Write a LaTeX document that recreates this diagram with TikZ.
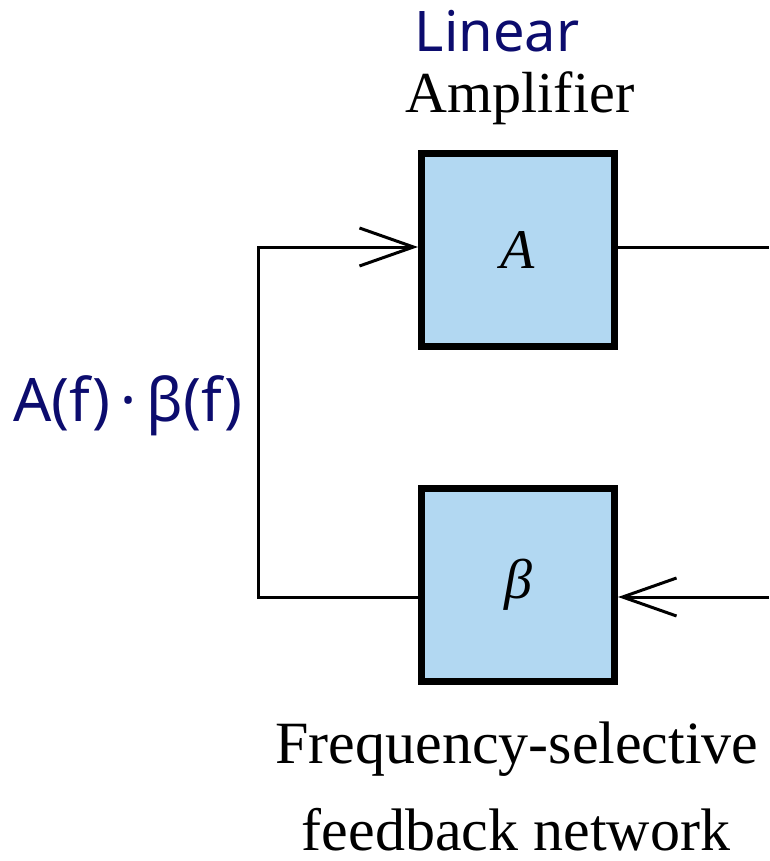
\documentclass[tikz,border=0pt]{standalone}
\usepackage{fontspec}
\setmainfont{Liberation Serif}
\newfontfamily\handfont{Noto Sans}
\usetikzlibrary{arrows.meta,positioning}
\definecolor{boxblue}{RGB}{178,216,242}
\definecolor{inknavy}{RGB}{12,12,110}
\tikzset{
  block/.style={draw,fill=boxblue,line width=7pt,minimum size=193pt,inner sep=0pt,
    font=\fontsize{56}{60}\selectfont\itshape},
  wire/.style={line width=3pt},
  feed/.style={wire,-{Straight Barb[length=54pt,width=38pt,line width=3pt]}},
  caption/.style={anchor=base,inner sep=0pt,font=\fontsize{58}{60}\selectfont},
  ink/.style={anchor=base,inner sep=0pt,text=inknavy,font=\handfont\fontsize{56}{60}\selectfont},
}
\begin{document}
\begin{tikzpicture}[x=1pt,y=-1pt]
\useasboundingbox (0,0) rectangle (769,861);
\node[block] (amp) at (518,250) {A};
\node[block] (net) at (518,585) {β};
\node[caption] (ampname) at (520,113) {Amplifier};
\node[caption,font=\fontsize{60}{60}\selectfont] (netname) at (517,763) {Frequency-selective};
\node[caption,font=\fontsize{60}{60}\selectfont] (netname2) at (516,850) {feedback network};
\node[ink] (linear) at (497,52) {Linear};
\node[ink,font=\handfont\fontsize{60}{64}\selectfont] (loopgain) at (128,421) {A(f)\,·\,β(f)};
\coordinate (ltop) at (258,247);
\coordinate (lbot) at (258,597);
\coordinate (rtop) at (769,247);
\coordinate (rbot) at (769,597);
\draw[wire] (amp.east |- rtop) -- (rtop);
\draw[feed] (rbot) -- (net.east |- rbot);
\draw[feed] (net.west |- lbot) -- (lbot) -- (ltop) -- (amp.west |- ltop);
\end{tikzpicture}
\end{document}
